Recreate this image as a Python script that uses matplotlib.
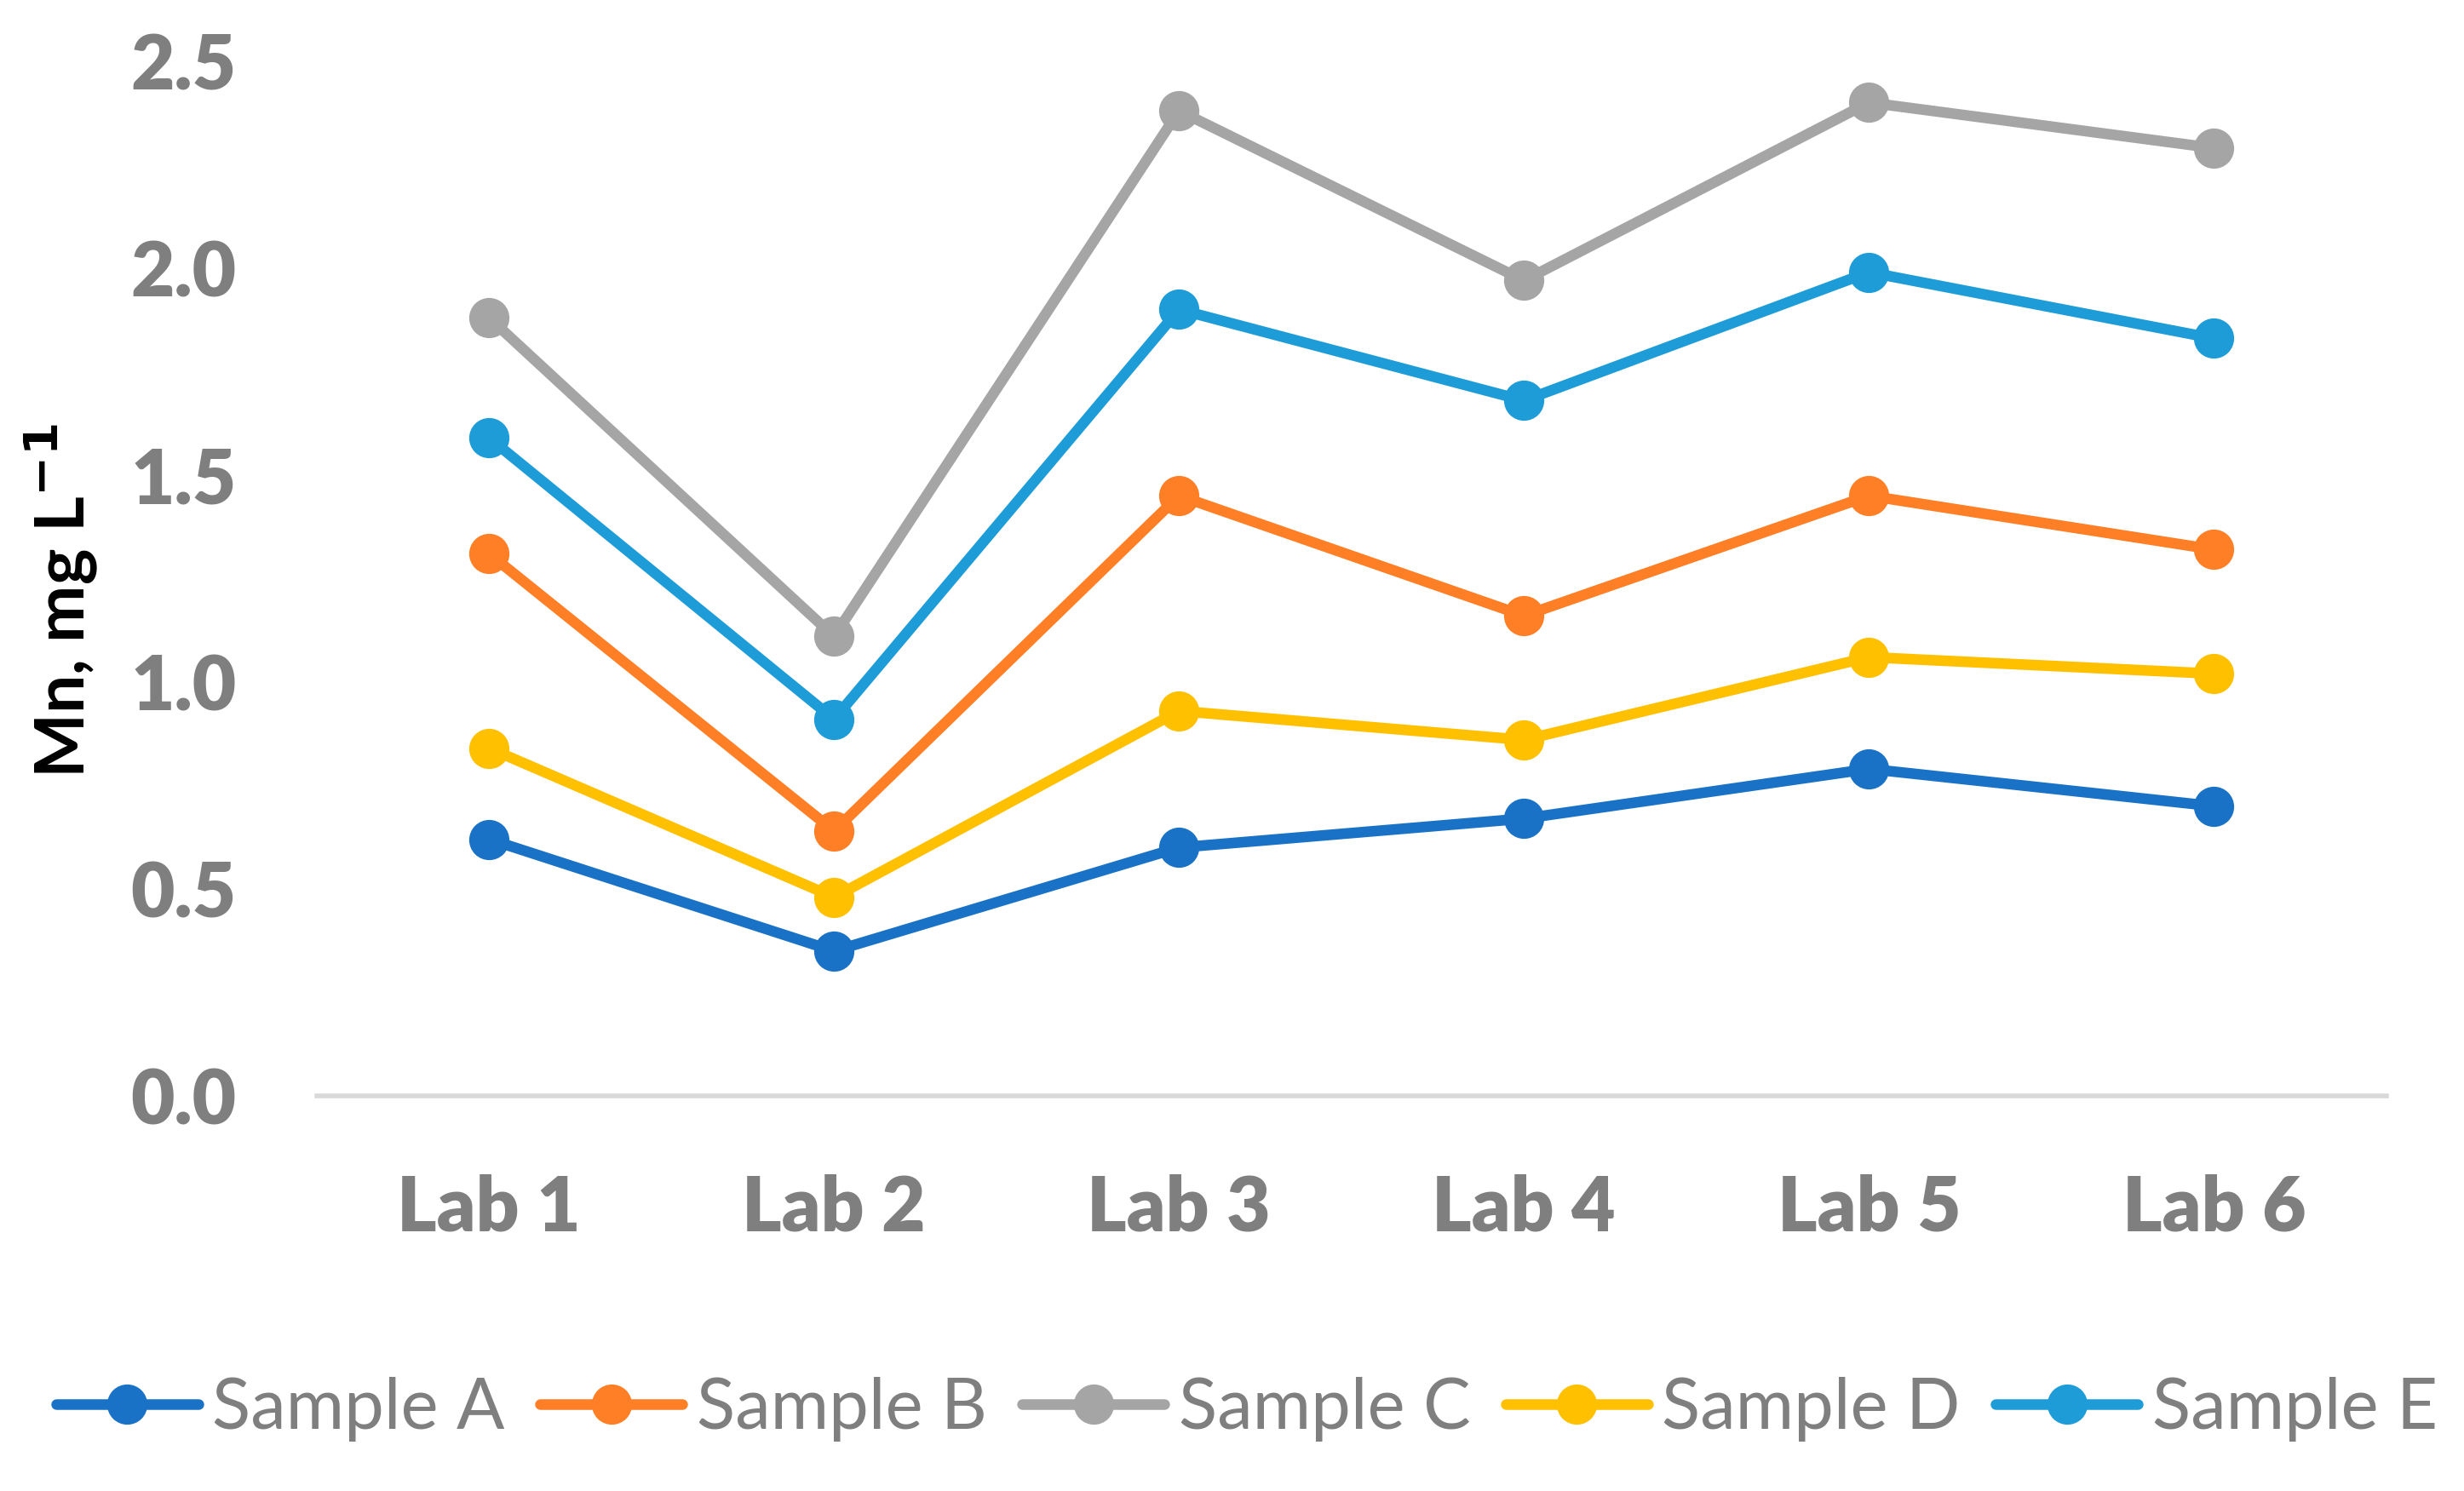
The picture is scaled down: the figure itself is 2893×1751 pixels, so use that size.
import matplotlib
matplotlib.use("Agg")
import matplotlib.pyplot as plt

labs = ["Lab 1", "Lab 2", "Lab 3", "Lab 4", "Lab 5", "Lab 6"]
sample_a = [0.62, 0.35, 0.60, 0.67, 0.79, 0.70]
sample_b = [1.31, 0.64, 1.45, 1.16, 1.45, 1.32]
sample_c = [1.88, 1.11, 2.38, 1.97, 2.40, 2.29]
sample_d = [0.84, 0.48, 0.93, 0.86, 1.06, 1.02]
sample_e = [1.59, 0.91, 1.90, 1.68, 1.99, 1.83]
names = ["Sample A", "Sample B", "Sample C", "Sample D", "Sample E"]
colors = ["#1A72C6", "#FF7F27", "#A5A5A5", "#FFC000", "#1E9CD8"]

plt.rcParams['font.family'] = ['Lato', 'DejaVu Sans']

fig = plt.figure(figsize=(14.465, 8.755), dpi=200)
ax = fig.add_axes([0.1285, 0.265, 0.840, 0.694])

x = range(len(labs))
for vals, name, c in zip([sample_a, sample_b, sample_c, sample_d, sample_e], names, colors):
    ax.plot(x, vals, '-o', color=c, lw=4.5, ms=16, label=name, solid_capstyle='round')

ax.set_xlim(-0.5, 5.5)
ax.set_ylim(0, 2.5)
ax.set_yticks([0, 0.5, 1.0, 1.5, 2.0, 2.5])
ax.set_yticklabels(["0.0", "0.5", "1.0", "1.5", "2.0", "2.5"])
ax.set_xticks(list(x))
ax.set_xticklabels(labs)
for s in ['top', 'right', 'left']:
    ax.spines[s].set_visible(False)
ax.spines['bottom'].set_color('#D9D9D9')
ax.spines['bottom'].set_linewidth(2)
ax.spines['bottom'].set_zorder(0)
ax.tick_params(axis='both', length=0, labelsize=32, labelcolor='#7F7F7F')
ax.tick_params(axis='y', pad=34)
ax.tick_params(axis='x', pad=33)
for t in ax.get_xticklabels() + ax.get_yticklabels():
    t.set_fontweight('heavy')

fig.text(0.0245, 0.597, "Mn, mg L$^{\\mathbf{-1}}$", rotation=90, ha='center', va='center',
         fontsize=29, fontweight='bold', color='black')

leg = fig.legend(loc='center', bbox_to_anchor=(0.506, 0.055), ncol=5, frameon=False,
                 fontsize=30, handlelength=2.0, columnspacing=0.5, handletextpad=0.2,
                 labelcolor='#7F7F7F')

fig.savefig("out.png", dpi=200)
